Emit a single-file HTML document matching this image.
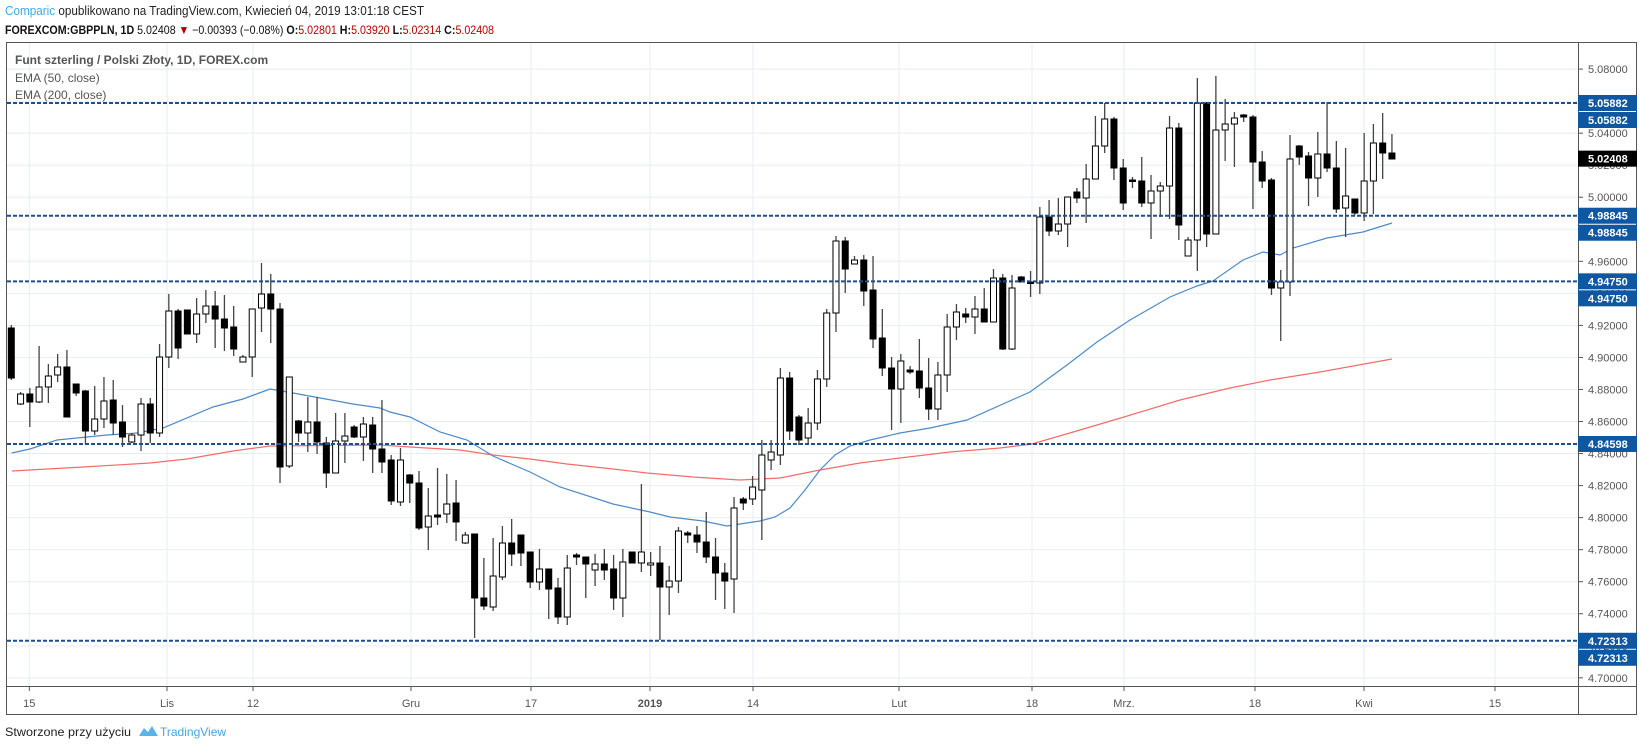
<!DOCTYPE html>
<html><head><meta charset="utf-8">
<style>
html,body{margin:0;padding:0;background:#fff;}
svg{display:block;font-family:"Liberation Sans",Arial,sans-serif;}
</style></head>
<body>
<svg id="c" width="1639" height="750" viewBox="0 0 1639 750" xmlns="http://www.w3.org/2000/svg">
<rect x="0" y="0" width="1639" height="750" fill="#fff"/>
<!-- header -->
<text x="5" y="15" font-size="12.5" fill="#222" textLength="419" lengthAdjust="spacingAndGlyphs"><tspan fill="#3fa9e5">Comparic</tspan> opublikowano na TradingView.com, Kwiecień 04, 2019 13:01:18 CEST</text>
<text x="5" y="34" font-size="12" fill="#111" textLength="489" lengthAdjust="spacingAndGlyphs"><tspan font-weight="bold">FOREXCOM:GBPPLN, 1D</tspan> 5.02408 <tspan fill="#a00">▼</tspan> −0.00393 (−0.08%) <tspan font-weight="bold">O:</tspan><tspan fill="#b00">5.02801</tspan> <tspan font-weight="bold">H:</tspan><tspan fill="#b00">5.03920</tspan> <tspan font-weight="bold">L:</tspan><tspan fill="#b00">5.02314</tspan> <tspan font-weight="bold">C:</tspan><tspan fill="#b00">5.02408</tspan></text>
<g id="grid"></g>
<g id="ema"></g>
<g id="cand"></g>
<g id="lev"></g>
<!-- frame -->
<rect x="6.5" y="42.5" width="1630" height="672" fill="none" stroke="#555" stroke-width="1"/>
<line x1="1578.5" y1="42" x2="1578.5" y2="715" stroke="#555"/>
<line x1="6" y1="686.5" x2="1637" y2="686.5" stroke="#555"/>
<text x="15" y="64" font-size="12" font-weight="bold" fill="#555">Funt szterling / Polski Złoty, 1D, FOREX.com</text>
<text x="15" y="82" font-size="12" fill="#555">EMA (50, close)</text>
<text x="15" y="99" font-size="12" fill="#555">EMA (200, close)</text>
<g id="ax" font-size="11" fill="#555"></g>
<g id="tl" font-size="11" fill="#555" text-anchor="middle"></g>
<text x="5" y="736" font-size="12" fill="#222" textLength="126" lengthAdjust="spacingAndGlyphs">Stworzone przy użyciu</text>
<path d="M139 736 l5 -8 l4 4 l4 -6 l6 10 z" fill="#5ab4e8"/>
<text x="160" y="736" font-size="12" fill="#3fa9e5">TradingView</text>
</svg>
<script>
var NS="http://www.w3.org/2000/svg";
function el(p,t,a,txt){var e=document.createElementNS(NS,t);for(var k in a)e.setAttribute(k,a[k]);if(txt!==undefined)e.textContent=txt;document.getElementById(p).appendChild(e);return e;}
function Y(p){return 103+(5.05882-p)*1602;}
for(var i=0;i<=19;i++){var p=5.08-i*0.02;var y=Y(p);
 el('grid','line',{x1:7,x2:1578,y1:y,y2:y,stroke:'#e6eef5','stroke-width':1});
 el('ax','line',{x1:1578,x2:1583,y1:y,y2:y,stroke:'#555'});
 el('ax','text',{x:1588,y:y+4},p.toFixed(5));
}
var vx=[[29.3,'15'],[167,'Lis'],[253,'12'],[411,'Gru'],[531,'17'],[650,'2019'],[753,'14'],[899,'Lut'],[1032,'18'],[1124,'Mrz.'],[1255,'18'],[1364,'Kwi'],[1495,'15']];
vx.forEach(function(v){el('grid','line',{x1:v[0],x2:v[0],y1:43,y2:686,stroke:'#e6eef5'});
 el('tl','line',{x1:v[0],x2:v[0],y1:686,y2:691,stroke:'#555'});
 var t=el('tl','text',{x:v[0],y:707},v[1]); if(v[1]=='2019')t.setAttribute('font-weight','bold');});
var blue=[[11.7,453],[30,449],[57,440],[107,435],[137,433],[163,428],[213,407],[243,399],[270,389],[293,393],[353,404],[380,408],[390,412],[410,417],[440,432],[467,440],[493,456],[530,472],[560,487],[613,504],[650,512],[670,517],[703,521],[727,526],[740,524],[760,521],[775,517],[790,508],[805,490],[820,470],[835,455],[850,446],[870,440],[900,433],[930,428],[967,420],[1030,392],[1067,365],[1097,342],[1130,320],[1170,297],[1197,286],[1213,281],[1243,260],[1263,252],[1280,255],[1293,248],[1327,238],[1363,232],[1392,223]];
var red=[[12,471],[83,467],[150,463],[187,459],[233,451],[270,446],[380,445],[410,447],[460,450],[493,455],[530,459],[567,464],[613,469],[647,473],[693,477],[740,480],[780,478],[820,470],[860,463],[900,458],[950,452],[1000,448],[1032,444],[1080,430],[1124,417],[1180,400],[1230,388],[1270,380],[1320,372],[1392,359]];
el('ema','polyline',{points:red.join(' '),fill:'none',stroke:'#f26d6a','stroke-width':1.2});
el('ema','polyline',{points:blue.join(' '),fill:'none',stroke:'#4f8ac6','stroke-width':1.2});
var C=[[328,378,325,380,1],[394,404,392,405,0],[394,402,388,427,1],[387,402,346,403,0],[376,387,364,403,0],[367,375,354,382,0],[367,417,350,417,1],[384,393,384,396,1],[391,431,390,444,1],[419,431,386,435,0],
[401,419,377,428,0],[400,423,380,435,1],[422,437,405,447,1],[435,442,433,443,0],[404,435,398,451,0],[404,433,398,443,1],[357,433,344,437,0],[311,357,294,368,0],[311,348,309,359,1],[310,334,310,334,1],
[314,334,298,343,0],[306,314,290,323,0],[306,319,291,348,1],[319,328,295,351,1],[327,349,306,356,1],[357,362,355,362,0],[309,357,309,377,0],[294,308,263,332,0],[294,309,274,343,1],[309,467,303,483,1],
[377,466,377,468,0],[421,433,420,442,1],[422,433,397,452,0],[422,442,397,454,1],[443,473,437,488,1],[441,473,413,473,0],[436,441,413,463,0],[427,437,425,438,1],[424,437,417,461,0],[425,449,417,473,1],
[449,462,400,473,1],[460,501,455,505,1],[460,502,448,506,0],[475,483,474,503,1],[483,528,471,530,1],[516,527,488,550,0],[515,517,468,525,1],[504,514,474,523,0],[503,522,480,541,1],[535,543,532,544,0],
[534,598,534,638,1],[598,606,558,610,1],[576,607,538,611,0],[543,577,526,580,0],[543,554,519,566,1],[535,553,535,566,1],[552,582,552,588,1],[569,582,549,590,0],[569,589,569,619,1],[588,617,578,624,1],
[568,617,555,625,0],[555,557,553,565,1],[557,564,557,598,1],[564,570,554,586,0],[564,570,549,580,1],[569,598,555,610,1],[562,598,549,617,0],[552,563,552,563,1],[552,563,484,572,0],[563,565,552,576,0],
[563,587,546,640,1],[581,587,566,615,0],[531,581,527,593,0],[533,535,531,543,1],[535,542,526,553,1],[542,557,512,563,1],[557,573,538,600,1],[573,581,563,609,1],[508,579,497,613,0],[499,503,497,510,1],
[487,499,476,505,0],[455,490,440,540,0],[452,460,440,470,0],[378,455,368,465,0],[378,431,372,440,1],[417,440,415,445,1],[423,438,408,445,0],[379,423,370,430,0],[313,379,309,387,0],[241,313,236,332,0],
[241,269,237,293,1],[260,264,256,264,0],[260,291,255,306,1],[290,339,256,348,1],[338,368,309,376,1],[368,389,357,430,1],[361,389,354,423,0],[370,372,366,374,1],[371,388,339,398,1],[388,409,358,420,1],
[375,409,362,420,0],[327,375,314,392,0],[312,327,304,340,0],[314,317,308,323,1],[309,317,296,334,0],[309,322,288,322,1],[278,322,269,322,0],[278,349,274,350,1],[288,349,275,350,0],[277,282,276,282,1],
[282,283,271,297,1],[217,283,207,294,0],[217,231,200,236,1],[224,231,198,235,0],[197,224,197,247,0],[192,198,188,203,1],[179,198,164,223,0],[146,179,116,179,0],[119,146,103,153,0],[119,168,117,180,1],
[168,203,159,210,1],[180,181,177,188,1],[181,203,157,207,1],[191,203,175,239,0],[186,191,182,217,0],[128,186,116,219,0],[128,225,123,240,1],[240,256,237,256,0],[103,240,78,271,0],[103,234,102,247,1],
[130,234,76,234,0],[124,130,99,161,0],[118,124,112,167,0],[115,117,114,122,1],[117,162,115,209,1],[162,181,151,188,1],[180,288,178,295,1],[282,288,270,341,0],[159,282,135,296,0],[146,157,145,165,1],
[156,178,152,206,1],[154,178,132,197,0],[154,168,102,172,1],[168,209,141,213,1],[196,208,148,237,0],[199,213,199,215,1],[181,213,133,221,0],[143,181,124,214,0],[143,153,113,179,1],[153,159,134,159,1]];
C.forEach(function(c,i){var x=11.3+i*9.266;
 el('cand','line',{x1:x,x2:x,y1:c[2],y2:c[3],stroke:'#444','stroke-width':1.3});
 var h=Math.max(c[1]-c[0],1.5);
 el('cand','rect',{x:x-3,y:c[0],width:6,height:h,fill:c[4]?'#000':'#fff',stroke:'#000','stroke-width':1});
});
var L=[[5.05882,2],[4.98845,2],[4.9475,2],[4.84598,1],[4.72313,2]];
L.forEach(function(l){var y=Y(l[0]);
 el('lev','line',{x1:7,x2:1578,y1:y,y2:y,stroke:'#1d4f8c','stroke-width':2,'stroke-dasharray':'4 2'});
 for(var k=0;k<l[1];k++){var yy=y+k*17;
  el('ax','rect',{x:1578,y:yy-8,width:59,height:16,fill:'#0f57a0'});
  el('ax','text',{x:1588,y:yy+4,fill:'#fff','font-weight':'bold'},l[0].toFixed(5));}
});
var yc=Y(5.02408);
el('ax','rect',{x:1578,y:yc-8,width:59,height:16,fill:'#000'});
el('ax','text',{x:1588,y:yc+4,fill:'#fff','font-weight':'bold'},'5.02408');
</script>
</body></html>
